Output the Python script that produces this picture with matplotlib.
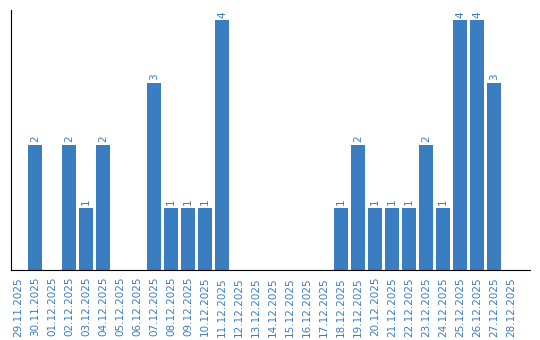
import matplotlib
matplotlib.use("Agg")
import matplotlib.pyplot as plt

dates = ["29.11.2025", "30.11.2025", "01.12.2025", "02.12.2025", "03.12.2025",
         "04.12.2025", "05.12.2025", "06.12.2025", "07.12.2025", "08.12.2025",
         "09.12.2025", "10.12.2025", "11.12.2025", "12.12.2025", "13.12.2025",
         "14.12.2025", "15.12.2025", "16.12.2025", "17.12.2025", "18.12.2025",
         "19.12.2025", "20.12.2025", "21.12.2025", "22.12.2025", "23.12.2025",
         "24.12.2025", "25.12.2025", "26.12.2025", "27.12.2025", "28.12.2025"]
values = [0, 2, 0, 2, 1, 2, 0, 0, 3, 1, 1, 1, 4, 0, 0, 0, 0, 0, 0, 1,
          2, 1, 1, 1, 2, 1, 4, 4, 3, 0]

color = "#3a7dc1"
fig = plt.figure(figsize=(5.4, 3.4), dpi=100)
ax = fig.add_axes([11/540, 1-270/340, 519/540, 260/340])
x = list(range(len(dates)))
bars = ax.bar(x, values, width=0.82, color=color)
for xi, v in zip(x, values):
    if v > 0:
        ax.text(xi, v + 0.04, str(v), rotation=90, ha="center", va="bottom",
                color=color, fontsize=7.5)
ax.set_xlim(-0.41, 30.1)
ax.set_ylim(0, 4.16)
ax.set_xticks(x)
ax.set_xticklabels(dates, rotation=90, color=color, fontsize=7.5)
ax.tick_params(axis="x", length=0, pad=5)
ax.set_yticks([])
ax.spines["top"].set_visible(False)
ax.spines["right"].set_visible(False)
fig.savefig("out.png", dpi=100)
